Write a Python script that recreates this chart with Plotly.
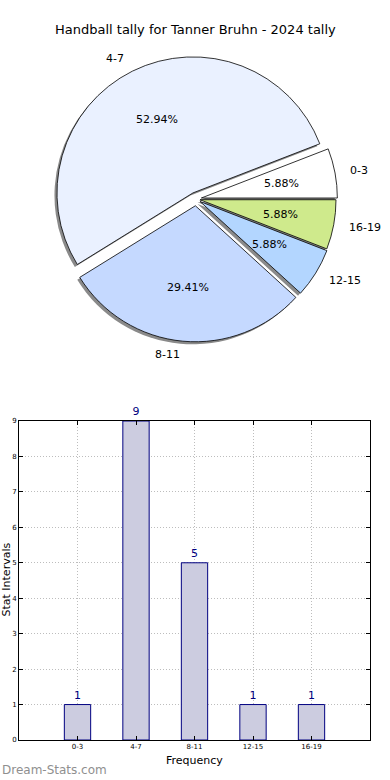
import math
import plotly.graph_objects as go

labels = ["0-3", "4-7", "8-11", "12-15", "16-19"]
counts = [1, 9, 5, 1, 1]
pie_colors = ["#FFFFFF", "#EAF1FF", "#C5D9FF", "#B3D6FF", "#CFEA8C"]
pulls = [0.04, 0.05, 0.05, 0.035, 0.03]

title = "Handball tally for Tanner Bruhn - 2024 tally"
W, H = 390, 780
font = "DejaVu Sans"

# pie geometry (pixels)
CX, CY, R = 196, 199, 136
maxpull = max(pulls)
HALF = R * (1 + maxpull)

def px_dom(cx, cy):
    return dict(x=[(cx - HALF) / W, (cx + HALF) / W],
                y=[1 - (cy + HALF) / H, 1 - (cy - HALF) / H])

total = sum(counts)
# plotly counterclockwise: first slice ends at the rotation angle -> shift so it starts at 3 o'clock
rotation = 90 - 360 * counts[0] / total

fig = go.Figure()

# shadow
fig.add_trace(go.Pie(
    labels=labels, values=counts, sort=False, direction="counterclockwise", rotation=rotation,
    pull=pulls, marker=dict(colors=["#8a8a8a"] * 5, line=dict(width=0)),
    textinfo="none", hoverinfo="skip", showlegend=False,
    domain=px_dom(CX - 2.5, CY + 2.5),
))
# main pie
fig.add_trace(go.Pie(
    labels=labels, values=counts, sort=False, direction="counterclockwise", rotation=rotation,
    pull=pulls, marker=dict(colors=pie_colors, line=dict(color="#000000", width=0.8)),
    textinfo="none", showlegend=False,
    domain=px_dom(CX, CY),
))

# matplotlib-style labels: names at 1.1 r, percentages at 0.6 r (from exploded centre)
annotations = []
cum = 0
for lab, v, p in zip(labels, counts, pulls):
    mid = math.radians(360 * (cum + v / 2) / total)
    cum += v
    c, s = math.cos(mid), math.sin(mid)
    off = p * R
    lx, ly = CX + (off + 1.1 * R) * c, CY - (off + 1.1 * R) * s
    annotations.append(dict(text=lab, x=lx / W, y=1 - ly / H, xref="paper", yref="paper",
                            xanchor="left" if c > 0 else "right", yanchor="middle",
                            showarrow=False, font=dict(family=font, size=11, color="#000000")))
    tx, ty = CX + (off + 0.6 * R) * c, CY - (off + 0.6 * R) * s
    annotations.append(dict(text=f"{100 * v / total:.2f}%", x=tx / W, y=1 - ty / H,
                            xref="paper", yref="paper", xanchor="center", yanchor="middle",
                            showarrow=False, font=dict(family=font, size=11, color="#000000")))

fig.add_trace(go.Bar(
    x=labels, y=counts, width=0.45, xaxis="x", yaxis="y",
    marker=dict(color="#CCCCE0", line=dict(color="#000080", width=1)),
    text=[str(c) for c in counts], textposition="outside", cliponaxis=False,
    textfont=dict(family=font, size=11, color="#000080"),
    showlegend=False,
))

axis_common = dict(
    showline=True, linecolor="#000000", linewidth=1, mirror="ticks",
    ticks="inside", ticklen=4, tickcolor="#000000",
    showgrid=True, gridcolor="#bdbdbd", griddash="1px,2px", gridwidth=1,
    zeroline=False, tickfont=dict(family=font, size=7, color="#000000"),
    automargin=False,
)

annotations += [
    dict(text=title, x=0.5, y=1 - 30 / H, xref="paper", yref="paper", xanchor="center",
         yanchor="middle", showarrow=False, font=dict(family=font, size=13, color="#000000")),
    dict(text="Frequency", x=(19 + 370) / 2 / W, y=1 - 760 / H, xref="paper", yref="paper",
         xanchor="center", yanchor="middle", showarrow=False,
         font=dict(family=font, size=11, color="#000000")),
    dict(text="Stat Intervals", x=5.5 / W, y=1 - 580 / H, xref="paper", yref="paper",
         xanchor="center", yanchor="middle", textangle=-90, showarrow=False,
         font=dict(family=font, size=11, color="#000000")),
    dict(text="Dream-Stats.com", x=0, y=1 - 770 / H, xref="paper", yref="paper",
         xanchor="left", yanchor="middle", showarrow=False,
         font=dict(family=font, size=12, color="#8f8f8f")),
]

fig.update_layout(
    width=W, height=H, margin=dict(l=0, r=0, t=0, b=0),
    paper_bgcolor="#FFFFFF", plot_bgcolor="#FFFFFF",
    xaxis=dict(domain=[19 / W, 370 / W], range=[-1, 5], type="category", anchor="y", **axis_common),
    yaxis=dict(domain=[1 - 740 / H, 1 - 421 / H], range=[0, 9], dtick=1, anchor="x", **axis_common),
    annotations=annotations,
)

fig.write_html("out.html", config={"displayModeBar": False},
               post_script="document.body.style.margin='0';")
